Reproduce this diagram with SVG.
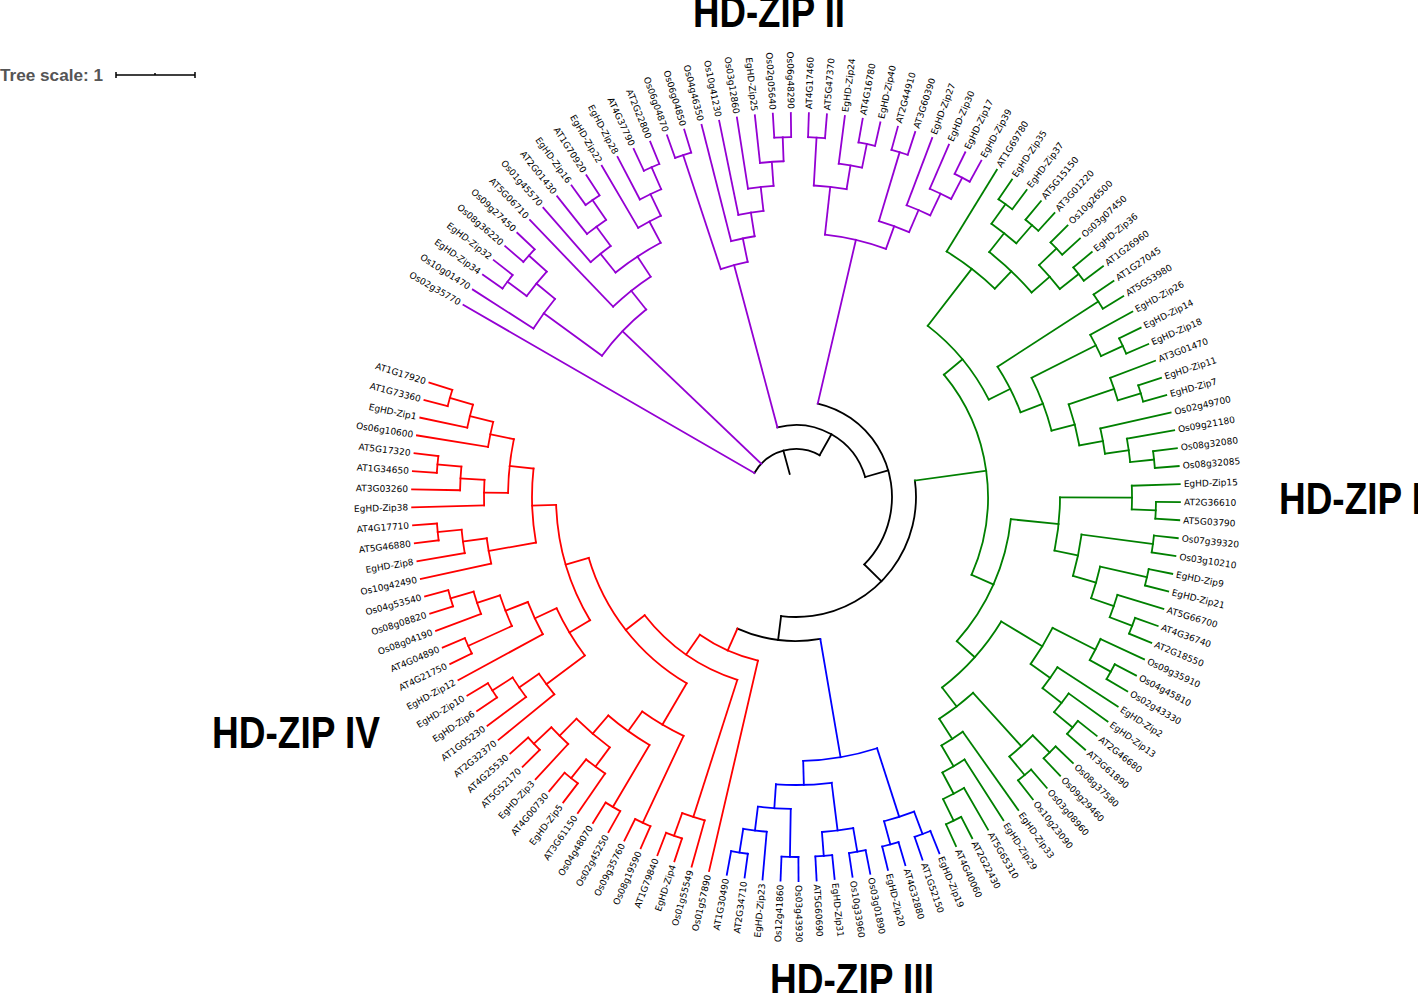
<svg xmlns="http://www.w3.org/2000/svg" width="1418" height="993" viewBox="0 0 1418 993">
<style>
.e{fill:none;stroke-width:1.8;stroke-linecap:square}
.pu{stroke:#9400d3}.gr{stroke:#008000}.bl{stroke:#0000ff}.rd{stroke:#ff0000}.bk{stroke:#000}
.l{font-family:"DejaVu Sans",Verdana,sans-serif;font-size:9px;dominant-baseline:central;fill:#000}
.f{text-anchor:end}
.h{font-family:"Liberation Sans",Arial,sans-serif;font-weight:bold;font-size:44px;fill:#000}
</style>
<rect width="1418" height="993" fill="#fff"/>
<g id="tree-scale">
<text x="0" y="81" font-family="Liberation Sans, Arial, sans-serif" font-weight="bold" font-size="16" fill="#555" textLength="103" lengthAdjust="spacingAndGlyphs">Tree scale: 1</text>
<path d="M116 75H195M116 72V78M195 72V78M155 73V75" stroke="#000" stroke-width="1.5" fill="none"/>
</g>
<g id="clade-titles">
<text class="h" x="1279" y="514" textLength="143" lengthAdjust="spacingAndGlyphs">HD-ZIP I</text>
<text class="h" x="693" y="27" textLength="152" lengthAdjust="spacingAndGlyphs">HD-ZIP II</text>
<text class="h" x="770" y="995" textLength="164" lengthAdjust="spacingAndGlyphs">HD-ZIP III</text>
<text class="h" x="212" y="748" textLength="168" lengthAdjust="spacingAndGlyphs">HD-ZIP IV</text>
</g>
<g transform="translate(796,497)">
<g id="connectors">
<g id="backbone" class="e bk">
<circle r="48" pathLength="360" stroke-dasharray="89.47 360" transform="rotate(-150)"/>
<path d="M24 0H48" transform="rotate(-105.265)"/>
<path d="M48 0H72" transform="rotate(-60.53)"/>
<circle r="72" pathLength="360" stroke-dasharray="88.825 360" transform="rotate(-104.945)"/>
<path d="M72 0H96" transform="rotate(-16.12)"/>
<circle r="96" pathLength="360" stroke-dasharray="121.525 360" transform="rotate(-76.885)"/>
<path d="M96 0H120" transform="rotate(44.64)"/>
<circle r="120" pathLength="360" stroke-dasharray="104.99 360" transform="rotate(-7.8545)"/>
<path d="M120 0H144" transform="rotate(97.135)"/>
<circle r="144" pathLength="360" stroke-dasharray="33.71 360" transform="rotate(80.28)"/>
</g>
<g id="hdzip2-branches" class="e pu">
<path d="M48 0H384" transform="rotate(-150)"/>
<path d="M312 0H384" transform="rotate(-147.31)"/>
<path d="M360 0H384" transform="rotate(-144.62)"/>
<path d="M360 0H384" transform="rotate(-141.92)"/>
<path d="M360 0H384" transform="rotate(-139.23)"/>
<path d="M360 0H384" transform="rotate(-136.54)"/>
<path d="M264 0H384" transform="rotate(-133.85)"/>
<path d="M312 0H384" transform="rotate(-131.15)"/>
<path d="M336 0H384" transform="rotate(-128.46)"/>
<path d="M360 0H384" transform="rotate(-125.77)"/>
<path d="M360 0H384" transform="rotate(-123.08)"/>
<path d="M312 0H384" transform="rotate(-120.38)"/>
<path d="M336 0H384" transform="rotate(-117.69)"/>
<path d="M360 0H384" transform="rotate(-115)"/>
<path d="M360 0H384" transform="rotate(-112.31)"/>
<path d="M360 0H384" transform="rotate(-109.62)"/>
<path d="M360 0H384" transform="rotate(-106.92)"/>
<path d="M264 0H384" transform="rotate(-104.23)"/>
<path d="M288 0H384" transform="rotate(-101.54)"/>
<path d="M312 0H384" transform="rotate(-98.85)"/>
<path d="M336 0H384" transform="rotate(-96.15)"/>
<path d="M360 0H384" transform="rotate(-93.46)"/>
<path d="M360 0H384" transform="rotate(-90.77)"/>
<path d="M360 0H384" transform="rotate(-88.08)"/>
<path d="M360 0H384" transform="rotate(-85.38)"/>
<path d="M336 0H384" transform="rotate(-82.69)"/>
<path d="M360 0H384" transform="rotate(-80)"/>
<path d="M360 0H384" transform="rotate(-77.31)"/>
<path d="M360 0H384" transform="rotate(-74.62)"/>
<path d="M360 0H384" transform="rotate(-71.92)"/>
<path d="M312 0H384" transform="rotate(-69.23)"/>
<path d="M336 0H384" transform="rotate(-66.54)"/>
<path d="M360 0H384" transform="rotate(-63.85)"/>
<path d="M360 0H384" transform="rotate(-61.15)"/>
<path d="M336 0H360" transform="rotate(-143.27)"/>
<path d="M336 0H360" transform="rotate(-137.885)"/>
<path d="M312 0H336" transform="rotate(-140.58)"/>
<path d="M240 0H312" transform="rotate(-143.945)"/>
<path d="M336 0H360" transform="rotate(-124.425)"/>
<path d="M312 0H336" transform="rotate(-126.44)"/>
<path d="M288 0H312" transform="rotate(-128.795)"/>
<path d="M336 0H360" transform="rotate(-113.655)"/>
<path d="M312 0H336" transform="rotate(-115.67)"/>
<path d="M288 0H312" transform="rotate(-118.025)"/>
<path d="M264 0H288" transform="rotate(-123.41)"/>
<path d="M240 0H264" transform="rotate(-128.63)"/>
<path d="M48 0H240" transform="rotate(-136.29)"/>
<path d="M240 0H360" transform="rotate(-108.27)"/>
<path d="M336 0H360" transform="rotate(-92.115)"/>
<path d="M312 0H336" transform="rotate(-94.13)"/>
<path d="M288 0H312" transform="rotate(-96.49)"/>
<path d="M264 0H288" transform="rotate(-99.015)"/>
<path d="M240 0H264" transform="rotate(-101.62)"/>
<path d="M72 0H240" transform="rotate(-104.945)"/>
<path d="M312 0H360" transform="rotate(-86.73)"/>
<path d="M336 0H360" transform="rotate(-78.655)"/>
<path d="M312 0H336" transform="rotate(-80.67)"/>
<path d="M264 0H312" transform="rotate(-83.7)"/>
<path d="M288 0H360" transform="rotate(-73.27)"/>
<path d="M336 0H360" transform="rotate(-62.5)"/>
<path d="M312 0H336" transform="rotate(-64.52)"/>
<path d="M288 0H312" transform="rotate(-66.875)"/>
<path d="M264 0H288" transform="rotate(-70.07)"/>
<path d="M96 0H264" transform="rotate(-76.885)"/>
<circle r="360" pathLength="360" stroke-dasharray="2.7 360" transform="rotate(-144.62)"/>
<circle r="360" pathLength="360" stroke-dasharray="2.69 360" transform="rotate(-139.23)"/>
<circle r="336" pathLength="360" stroke-dasharray="5.385 360" transform="rotate(-143.27)"/>
<circle r="312" pathLength="360" stroke-dasharray="6.73 360" transform="rotate(-147.31)"/>
<circle r="360" pathLength="360" stroke-dasharray="2.69 360" transform="rotate(-125.77)"/>
<circle r="336" pathLength="360" stroke-dasharray="4.035 360" transform="rotate(-128.46)"/>
<circle r="312" pathLength="360" stroke-dasharray="4.71 360" transform="rotate(-131.15)"/>
<circle r="360" pathLength="360" stroke-dasharray="2.69 360" transform="rotate(-115)"/>
<circle r="336" pathLength="360" stroke-dasharray="4.035 360" transform="rotate(-117.69)"/>
<circle r="312" pathLength="360" stroke-dasharray="4.71 360" transform="rotate(-120.38)"/>
<circle r="288" pathLength="360" stroke-dasharray="10.77 360" transform="rotate(-128.795)"/>
<circle r="264" pathLength="360" stroke-dasharray="10.44 360" transform="rotate(-133.85)"/>
<circle r="240" pathLength="360" stroke-dasharray="15.315 360" transform="rotate(-143.945)"/>
<circle r="360" pathLength="360" stroke-dasharray="2.7 360" transform="rotate(-109.62)"/>
<circle r="240" pathLength="360" stroke-dasharray="6.65 360" transform="rotate(-108.27)"/>
<circle r="360" pathLength="360" stroke-dasharray="2.69 360" transform="rotate(-93.46)"/>
<circle r="336" pathLength="360" stroke-dasharray="4.035 360" transform="rotate(-96.15)"/>
<circle r="312" pathLength="360" stroke-dasharray="4.72 360" transform="rotate(-98.85)"/>
<circle r="288" pathLength="360" stroke-dasharray="5.05 360" transform="rotate(-101.54)"/>
<circle r="264" pathLength="360" stroke-dasharray="5.215 360" transform="rotate(-104.23)"/>
<circle r="360" pathLength="360" stroke-dasharray="2.7 360" transform="rotate(-88.08)"/>
<circle r="360" pathLength="360" stroke-dasharray="2.69 360" transform="rotate(-80)"/>
<circle r="336" pathLength="360" stroke-dasharray="4.035 360" transform="rotate(-82.69)"/>
<circle r="312" pathLength="360" stroke-dasharray="6.06 360" transform="rotate(-86.73)"/>
<circle r="360" pathLength="360" stroke-dasharray="2.7 360" transform="rotate(-74.62)"/>
<circle r="360" pathLength="360" stroke-dasharray="2.7 360" transform="rotate(-63.85)"/>
<circle r="336" pathLength="360" stroke-dasharray="4.04 360" transform="rotate(-66.54)"/>
<circle r="312" pathLength="360" stroke-dasharray="4.71 360" transform="rotate(-69.23)"/>
<circle r="288" pathLength="360" stroke-dasharray="6.395 360" transform="rotate(-73.27)"/>
<circle r="264" pathLength="360" stroke-dasharray="13.63 360" transform="rotate(-83.7)"/>
</g>
<g id="hdzip1-branches" class="e gr">
<path d="M288 0H384" transform="rotate(-58.46)"/>
<path d="M360 0H384" transform="rotate(-55.77)"/>
<path d="M360 0H384" transform="rotate(-53.08)"/>
<path d="M360 0H384" transform="rotate(-50.38)"/>
<path d="M360 0H384" transform="rotate(-47.69)"/>
<path d="M360 0H384" transform="rotate(-45)"/>
<path d="M360 0H384" transform="rotate(-42.31)"/>
<path d="M360 0H384" transform="rotate(-39.62)"/>
<path d="M360 0H384" transform="rotate(-36.92)"/>
<path d="M360 0H384" transform="rotate(-34.23)"/>
<path d="M360 0H384" transform="rotate(-31.54)"/>
<path d="M336 0H384" transform="rotate(-28.85)"/>
<path d="M360 0H384" transform="rotate(-26.15)"/>
<path d="M360 0H384" transform="rotate(-23.46)"/>
<path d="M336 0H384" transform="rotate(-20.77)"/>
<path d="M360 0H384" transform="rotate(-18.08)"/>
<path d="M360 0H384" transform="rotate(-15.38)"/>
<path d="M312 0H384" transform="rotate(-12.69)"/>
<path d="M336 0H384" transform="rotate(-10)"/>
<path d="M360 0H384" transform="rotate(-7.31)"/>
<path d="M360 0H384" transform="rotate(-4.62)"/>
<path d="M336 0H384" transform="rotate(-1.92)"/>
<path d="M360 0H384" transform="rotate(0.77)"/>
<path d="M360 0H384" transform="rotate(3.46)"/>
<path d="M360 0H384" transform="rotate(6.15)"/>
<path d="M360 0H384" transform="rotate(8.85)"/>
<path d="M360 0H384" transform="rotate(11.54)"/>
<path d="M360 0H384" transform="rotate(14.23)"/>
<path d="M336 0H384" transform="rotate(16.92)"/>
<path d="M360 0H384" transform="rotate(19.62)"/>
<path d="M360 0H384" transform="rotate(22.31)"/>
<path d="M336 0H384" transform="rotate(25)"/>
<path d="M360 0H384" transform="rotate(27.69)"/>
<path d="M360 0H384" transform="rotate(30.38)"/>
<path d="M312 0H384" transform="rotate(33.08)"/>
<path d="M336 0H384" transform="rotate(35.77)"/>
<path d="M360 0H384" transform="rotate(38.46)"/>
<path d="M360 0H384" transform="rotate(41.15)"/>
<path d="M360 0H384" transform="rotate(43.85)"/>
<path d="M360 0H384" transform="rotate(46.54)"/>
<path d="M360 0H384" transform="rotate(49.23)"/>
<path d="M360 0H384" transform="rotate(51.92)"/>
<path d="M288 0H384" transform="rotate(54.62)"/>
<path d="M312 0H384" transform="rotate(57.31)"/>
<path d="M336 0H384" transform="rotate(60)"/>
<path d="M360 0H384" transform="rotate(62.69)"/>
<path d="M360 0H384" transform="rotate(65.38)"/>
<path d="M336 0H360" transform="rotate(-54.425)"/>
<path d="M336 0H360" transform="rotate(-49.035)"/>
<path d="M312 0H336" transform="rotate(-51.73)"/>
<path d="M336 0H360" transform="rotate(-43.655)"/>
<path d="M336 0H360" transform="rotate(-38.27)"/>
<path d="M312 0H336" transform="rotate(-40.96)"/>
<path d="M288 0H312" transform="rotate(-46.345)"/>
<path d="M216 0H288" transform="rotate(-52.4025)"/>
<path d="M240 0H360" transform="rotate(-32.885)"/>
<path d="M336 0H360" transform="rotate(-24.805)"/>
<path d="M264 0H336" transform="rotate(-26.83)"/>
<path d="M336 0H360" transform="rotate(-16.73)"/>
<path d="M288 0H336" transform="rotate(-18.75)"/>
<path d="M336 0H360" transform="rotate(-5.965)"/>
<path d="M312 0H336" transform="rotate(-7.98)"/>
<path d="M288 0H312" transform="rotate(-10.335)"/>
<path d="M264 0H288" transform="rotate(-14.5425)"/>
<path d="M240 0H264" transform="rotate(-20.686)"/>
<path d="M216 0H240" transform="rotate(-26.7855)"/>
<path d="M192 0H216" transform="rotate(-39.594)"/>
<path d="M336 0H360" transform="rotate(2.115)"/>
<path d="M264 0H336" transform="rotate(0.0975)"/>
<path d="M288 0H360" transform="rotate(7.5)"/>
<path d="M312 0H360" transform="rotate(12.885)"/>
<path d="M336 0H360" transform="rotate(20.965)"/>
<path d="M312 0H336" transform="rotate(18.94)"/>
<path d="M288 0H312" transform="rotate(15.91)"/>
<path d="M264 0H288" transform="rotate(11.705)"/>
<path d="M216 0H264" transform="rotate(5.9)"/>
<path d="M336 0H360" transform="rotate(29.035)"/>
<path d="M288 0H336" transform="rotate(27.02)"/>
<path d="M336 0H360" transform="rotate(39.805)"/>
<path d="M312 0H336" transform="rotate(37.79)"/>
<path d="M288 0H312" transform="rotate(35.435)"/>
<path d="M240 0H288" transform="rotate(31.23)"/>
<path d="M336 0H360" transform="rotate(45.195)"/>
<path d="M336 0H360" transform="rotate(50.575)"/>
<path d="M264 0H336" transform="rotate(47.885)"/>
<path d="M336 0H360" transform="rotate(64.035)"/>
<path d="M312 0H336" transform="rotate(62.02)"/>
<path d="M288 0H312" transform="rotate(59.665)"/>
<path d="M264 0H288" transform="rotate(57.14)"/>
<path d="M240 0H264" transform="rotate(52.51)"/>
<path d="M216 0H240" transform="rotate(41.87)"/>
<path d="M192 0H216" transform="rotate(23.885)"/>
<path d="M120 0H192" transform="rotate(-7.8545)"/>
<circle r="360" pathLength="360" stroke-dasharray="2.69 360" transform="rotate(-55.77)"/>
<circle r="360" pathLength="360" stroke-dasharray="2.69 360" transform="rotate(-50.38)"/>
<circle r="336" pathLength="360" stroke-dasharray="5.39 360" transform="rotate(-54.425)"/>
<circle r="360" pathLength="360" stroke-dasharray="2.69 360" transform="rotate(-45)"/>
<circle r="360" pathLength="360" stroke-dasharray="2.7 360" transform="rotate(-39.62)"/>
<circle r="336" pathLength="360" stroke-dasharray="5.385 360" transform="rotate(-43.655)"/>
<circle r="312" pathLength="360" stroke-dasharray="10.77 360" transform="rotate(-51.73)"/>
<circle r="288" pathLength="360" stroke-dasharray="12.1175 360" transform="rotate(-58.46)"/>
<circle r="360" pathLength="360" stroke-dasharray="2.69 360" transform="rotate(-34.23)"/>
<circle r="360" pathLength="360" stroke-dasharray="2.69 360" transform="rotate(-26.15)"/>
<circle r="336" pathLength="360" stroke-dasharray="4.045 360" transform="rotate(-28.85)"/>
<circle r="360" pathLength="360" stroke-dasharray="2.7 360" transform="rotate(-18.08)"/>
<circle r="336" pathLength="360" stroke-dasharray="4.04 360" transform="rotate(-20.77)"/>
<circle r="360" pathLength="360" stroke-dasharray="2.69 360" transform="rotate(-7.31)"/>
<circle r="336" pathLength="360" stroke-dasharray="4.035 360" transform="rotate(-10)"/>
<circle r="312" pathLength="360" stroke-dasharray="4.71 360" transform="rotate(-12.69)"/>
<circle r="288" pathLength="360" stroke-dasharray="8.415 360" transform="rotate(-18.75)"/>
<circle r="264" pathLength="360" stroke-dasharray="12.2875 360" transform="rotate(-26.83)"/>
<circle r="240" pathLength="360" stroke-dasharray="12.199 360" transform="rotate(-32.885)"/>
<circle r="216" pathLength="360" stroke-dasharray="25.617 360" transform="rotate(-52.4025)"/>
<circle r="360" pathLength="360" stroke-dasharray="2.69 360" transform="rotate(0.77)"/>
<circle r="336" pathLength="360" stroke-dasharray="4.035 360" transform="rotate(-1.92)"/>
<circle r="360" pathLength="360" stroke-dasharray="2.7 360" transform="rotate(6.15)"/>
<circle r="360" pathLength="360" stroke-dasharray="2.69 360" transform="rotate(11.54)"/>
<circle r="360" pathLength="360" stroke-dasharray="2.69 360" transform="rotate(19.62)"/>
<circle r="336" pathLength="360" stroke-dasharray="4.045 360" transform="rotate(16.92)"/>
<circle r="312" pathLength="360" stroke-dasharray="6.055 360" transform="rotate(12.885)"/>
<circle r="288" pathLength="360" stroke-dasharray="8.41 360" transform="rotate(7.5)"/>
<circle r="264" pathLength="360" stroke-dasharray="11.61 360" transform="rotate(0.0975)"/>
<circle r="360" pathLength="360" stroke-dasharray="2.69 360" transform="rotate(27.69)"/>
<circle r="336" pathLength="360" stroke-dasharray="4.035 360" transform="rotate(25)"/>
<circle r="360" pathLength="360" stroke-dasharray="2.69 360" transform="rotate(38.46)"/>
<circle r="336" pathLength="360" stroke-dasharray="4.035 360" transform="rotate(35.77)"/>
<circle r="312" pathLength="360" stroke-dasharray="4.71 360" transform="rotate(33.08)"/>
<circle r="288" pathLength="360" stroke-dasharray="8.415 360" transform="rotate(27.02)"/>
<circle r="360" pathLength="360" stroke-dasharray="2.69 360" transform="rotate(43.85)"/>
<circle r="360" pathLength="360" stroke-dasharray="2.69 360" transform="rotate(49.23)"/>
<circle r="336" pathLength="360" stroke-dasharray="5.38 360" transform="rotate(45.195)"/>
<circle r="360" pathLength="360" stroke-dasharray="2.69 360" transform="rotate(62.69)"/>
<circle r="336" pathLength="360" stroke-dasharray="4.035 360" transform="rotate(60)"/>
<circle r="312" pathLength="360" stroke-dasharray="4.71 360" transform="rotate(57.31)"/>
<circle r="288" pathLength="360" stroke-dasharray="5.045 360" transform="rotate(54.62)"/>
<circle r="264" pathLength="360" stroke-dasharray="9.255 360" transform="rotate(47.885)"/>
<circle r="240" pathLength="360" stroke-dasharray="21.28 360" transform="rotate(31.23)"/>
<circle r="216" pathLength="360" stroke-dasharray="35.97 360" transform="rotate(5.9)"/>
<circle r="192" pathLength="360" stroke-dasharray="63.479 360" transform="rotate(-39.594)"/>
</g>
<g id="hdzip3-branches" class="e bl">
<path d="M360 0H384" transform="rotate(68.08)"/>
<path d="M360 0H384" transform="rotate(70.77)"/>
<path d="M360 0H384" transform="rotate(73.46)"/>
<path d="M360 0H384" transform="rotate(76.15)"/>
<path d="M360 0H384" transform="rotate(78.85)"/>
<path d="M360 0H384" transform="rotate(81.54)"/>
<path d="M360 0H384" transform="rotate(84.23)"/>
<path d="M360 0H384" transform="rotate(86.92)"/>
<path d="M360 0H384" transform="rotate(89.62)"/>
<path d="M360 0H384" transform="rotate(92.31)"/>
<path d="M336 0H384" transform="rotate(95)"/>
<path d="M360 0H384" transform="rotate(97.69)"/>
<path d="M360 0H384" transform="rotate(100.38)"/>
<path d="M336 0H360" transform="rotate(69.425)"/>
<path d="M336 0H360" transform="rotate(74.805)"/>
<path d="M264 0H336" transform="rotate(72.115)"/>
<path d="M336 0H360" transform="rotate(80.195)"/>
<path d="M336 0H360" transform="rotate(85.575)"/>
<path d="M288 0H336" transform="rotate(82.885)"/>
<path d="M312 0H360" transform="rotate(90.965)"/>
<path d="M336 0H360" transform="rotate(99.035)"/>
<path d="M312 0H336" transform="rotate(97.0175)"/>
<path d="M288 0H312" transform="rotate(93.99)"/>
<path d="M264 0H288" transform="rotate(88.44)"/>
<path d="M144 0H264" transform="rotate(80.28)"/>
<circle r="360" pathLength="360" stroke-dasharray="2.69 360" transform="rotate(68.08)"/>
<circle r="360" pathLength="360" stroke-dasharray="2.69 360" transform="rotate(73.46)"/>
<circle r="336" pathLength="360" stroke-dasharray="5.38 360" transform="rotate(69.425)"/>
<circle r="360" pathLength="360" stroke-dasharray="2.69 360" transform="rotate(78.85)"/>
<circle r="360" pathLength="360" stroke-dasharray="2.69 360" transform="rotate(84.23)"/>
<circle r="336" pathLength="360" stroke-dasharray="5.38 360" transform="rotate(80.195)"/>
<circle r="360" pathLength="360" stroke-dasharray="2.69 360" transform="rotate(89.62)"/>
<circle r="360" pathLength="360" stroke-dasharray="2.69 360" transform="rotate(97.69)"/>
<circle r="336" pathLength="360" stroke-dasharray="4.035 360" transform="rotate(95)"/>
<circle r="312" pathLength="360" stroke-dasharray="6.0525 360" transform="rotate(90.965)"/>
<circle r="288" pathLength="360" stroke-dasharray="11.105 360" transform="rotate(82.885)"/>
<circle r="264" pathLength="360" stroke-dasharray="16.325 360" transform="rotate(72.115)"/>
</g>
<g id="hdzip4-branches" class="e rd">
<path d="M168 0H384" transform="rotate(103.08)"/>
<path d="M336 0H384" transform="rotate(105.77)"/>
<path d="M360 0H384" transform="rotate(108.46)"/>
<path d="M360 0H384" transform="rotate(111.15)"/>
<path d="M360 0H384" transform="rotate(113.85)"/>
<path d="M360 0H384" transform="rotate(116.54)"/>
<path d="M360 0H384" transform="rotate(119.23)"/>
<path d="M360 0H384" transform="rotate(121.92)"/>
<path d="M336 0H384" transform="rotate(124.62)"/>
<path d="M360 0H384" transform="rotate(127.31)"/>
<path d="M360 0H384" transform="rotate(130)"/>
<path d="M336 0H384" transform="rotate(132.69)"/>
<path d="M360 0H384" transform="rotate(135.38)"/>
<path d="M360 0H384" transform="rotate(138.08)"/>
<path d="M312 0H384" transform="rotate(140.77)"/>
<path d="M336 0H384" transform="rotate(143.46)"/>
<path d="M360 0H384" transform="rotate(146.15)"/>
<path d="M360 0H384" transform="rotate(148.85)"/>
<path d="M288 0H384" transform="rotate(151.54)"/>
<path d="M360 0H384" transform="rotate(154.23)"/>
<path d="M360 0H384" transform="rotate(156.92)"/>
<path d="M336 0H384" transform="rotate(159.62)"/>
<path d="M360 0H384" transform="rotate(162.31)"/>
<path d="M360 0H384" transform="rotate(165)"/>
<path d="M312 0H384" transform="rotate(167.69)"/>
<path d="M336 0H384" transform="rotate(170.38)"/>
<path d="M360 0H384" transform="rotate(173.08)"/>
<path d="M360 0H384" transform="rotate(175.77)"/>
<path d="M312 0H384" transform="rotate(178.46)"/>
<path d="M336 0H384" transform="rotate(181.15)"/>
<path d="M360 0H384" transform="rotate(183.85)"/>
<path d="M360 0H384" transform="rotate(186.54)"/>
<path d="M312 0H384" transform="rotate(189.23)"/>
<path d="M336 0H384" transform="rotate(191.92)"/>
<path d="M360 0H384" transform="rotate(194.62)"/>
<path d="M360 0H384" transform="rotate(197.31)"/>
<path d="M336 0H360" transform="rotate(109.805)"/>
<path d="M192 0H336" transform="rotate(107.79)"/>
<path d="M264 0H360" transform="rotate(115.195)"/>
<path d="M288 0H360" transform="rotate(120.575)"/>
<path d="M336 0H360" transform="rotate(128.655)"/>
<path d="M312 0H336" transform="rotate(126.64)"/>
<path d="M336 0H360" transform="rotate(136.73)"/>
<path d="M312 0H336" transform="rotate(134.71)"/>
<path d="M288 0H312" transform="rotate(130.675)"/>
<path d="M264 0H288" transform="rotate(125.625)"/>
<path d="M216 0H264" transform="rotate(120.41)"/>
<path d="M336 0H360" transform="rotate(147.5)"/>
<path d="M312 0H336" transform="rotate(145.48)"/>
<path d="M264 0H312" transform="rotate(143.125)"/>
<path d="M312 0H360" transform="rotate(155.575)"/>
<path d="M336 0H360" transform="rotate(163.655)"/>
<path d="M312 0H336" transform="rotate(161.64)"/>
<path d="M288 0H312" transform="rotate(158.61)"/>
<path d="M264 0H288" transform="rotate(155.075)"/>
<path d="M240 0H264" transform="rotate(149.1)"/>
<path d="M336 0H360" transform="rotate(174.425)"/>
<path d="M312 0H336" transform="rotate(172.4)"/>
<path d="M264 0H312" transform="rotate(170.045)"/>
<path d="M336 0H360" transform="rotate(185.195)"/>
<path d="M312 0H336" transform="rotate(183.17)"/>
<path d="M288 0H312" transform="rotate(180.815)"/>
<path d="M336 0H360" transform="rotate(195.965)"/>
<path d="M312 0H336" transform="rotate(193.94)"/>
<path d="M288 0H312" transform="rotate(191.585)"/>
<path d="M264 0H288" transform="rotate(186.2)"/>
<path d="M240 0H264" transform="rotate(178.12)"/>
<path d="M216 0H240" transform="rotate(163.61)"/>
<path d="M192 0H216" transform="rotate(142.01)"/>
<path d="M168 0H192" transform="rotate(124.9)"/>
<path d="M144 0H168" transform="rotate(113.99)"/>
<circle r="360" pathLength="360" stroke-dasharray="2.69 360" transform="rotate(108.46)"/>
<circle r="336" pathLength="360" stroke-dasharray="4.035 360" transform="rotate(105.77)"/>
<circle r="360" pathLength="360" stroke-dasharray="2.69 360" transform="rotate(113.85)"/>
<circle r="360" pathLength="360" stroke-dasharray="2.69 360" transform="rotate(119.23)"/>
<circle r="360" pathLength="360" stroke-dasharray="2.69 360" transform="rotate(127.31)"/>
<circle r="336" pathLength="360" stroke-dasharray="4.035 360" transform="rotate(124.62)"/>
<circle r="360" pathLength="360" stroke-dasharray="2.7 360" transform="rotate(135.38)"/>
<circle r="336" pathLength="360" stroke-dasharray="4.04 360" transform="rotate(132.69)"/>
<circle r="312" pathLength="360" stroke-dasharray="8.07 360" transform="rotate(126.64)"/>
<circle r="288" pathLength="360" stroke-dasharray="10.1 360" transform="rotate(120.575)"/>
<circle r="264" pathLength="360" stroke-dasharray="10.43 360" transform="rotate(115.195)"/>
<circle r="360" pathLength="360" stroke-dasharray="2.7 360" transform="rotate(146.15)"/>
<circle r="336" pathLength="360" stroke-dasharray="4.04 360" transform="rotate(143.46)"/>
<circle r="312" pathLength="360" stroke-dasharray="4.71 360" transform="rotate(140.77)"/>
<circle r="360" pathLength="360" stroke-dasharray="2.69 360" transform="rotate(154.23)"/>
<circle r="360" pathLength="360" stroke-dasharray="2.69 360" transform="rotate(162.31)"/>
<circle r="336" pathLength="360" stroke-dasharray="4.035 360" transform="rotate(159.62)"/>
<circle r="312" pathLength="360" stroke-dasharray="6.065 360" transform="rotate(155.575)"/>
<circle r="288" pathLength="360" stroke-dasharray="7.07 360" transform="rotate(151.54)"/>
<circle r="264" pathLength="360" stroke-dasharray="11.95 360" transform="rotate(143.125)"/>
<circle r="360" pathLength="360" stroke-dasharray="2.69 360" transform="rotate(173.08)"/>
<circle r="336" pathLength="360" stroke-dasharray="4.045 360" transform="rotate(170.38)"/>
<circle r="312" pathLength="360" stroke-dasharray="4.71 360" transform="rotate(167.69)"/>
<circle r="360" pathLength="360" stroke-dasharray="2.69 360" transform="rotate(183.85)"/>
<circle r="336" pathLength="360" stroke-dasharray="4.045 360" transform="rotate(181.15)"/>
<circle r="312" pathLength="360" stroke-dasharray="4.71 360" transform="rotate(178.46)"/>
<circle r="360" pathLength="360" stroke-dasharray="2.69 360" transform="rotate(194.62)"/>
<circle r="336" pathLength="360" stroke-dasharray="4.045 360" transform="rotate(191.92)"/>
<circle r="312" pathLength="360" stroke-dasharray="4.71 360" transform="rotate(189.23)"/>
<circle r="288" pathLength="360" stroke-dasharray="10.77 360" transform="rotate(180.815)"/>
<circle r="264" pathLength="360" stroke-dasharray="16.155 360" transform="rotate(170.045)"/>
<circle r="240" pathLength="360" stroke-dasharray="29.02 360" transform="rotate(149.1)"/>
<circle r="216" pathLength="360" stroke-dasharray="43.2 360" transform="rotate(120.41)"/>
<circle r="192" pathLength="360" stroke-dasharray="34.22 360" transform="rotate(107.79)"/>
<circle r="168" pathLength="360" stroke-dasharray="21.82 360" transform="rotate(103.08)"/>
</g>
</g>
<g id="leaves">
<text id="Os02g35770" class="l f" x="-388" transform="rotate(30)">Os02g35770</text>
<text id="Os10g01470" class="l f" x="-388" transform="rotate(32.69)">Os10g01470</text>
<text id="EgHD-Zip34" class="l f" x="-388" transform="rotate(35.38)">EgHD-Zip34</text>
<text id="EgHD-Zip32" class="l f" x="-388" transform="rotate(38.08)">EgHD-Zip32</text>
<text id="Os08g36220" class="l f" x="-388" transform="rotate(40.77)">Os08g36220</text>
<text id="Os09g27450" class="l f" x="-388" transform="rotate(43.46)">Os09g27450</text>
<text id="AT5G06710" class="l f" x="-388" transform="rotate(46.15)">AT5G06710</text>
<text id="Os01g45570" class="l f" x="-388" transform="rotate(48.85)">Os01g45570</text>
<text id="AT2G01430" class="l f" x="-388" transform="rotate(51.54)">AT2G01430</text>
<text id="EgHD-Zip16" class="l f" x="-388" transform="rotate(54.23)">EgHD-Zip16</text>
<text id="AT1G70920" class="l f" x="-388" transform="rotate(56.92)">AT1G70920</text>
<text id="EgHD-Zip22" class="l f" x="-388" transform="rotate(59.62)">EgHD-Zip22</text>
<text id="EgHD-Zip28" class="l f" x="-388" transform="rotate(62.31)">EgHD-Zip28</text>
<text id="AT4G37790" class="l f" x="-388" transform="rotate(65)">AT4G37790</text>
<text id="AT2G22800" class="l f" x="-388" transform="rotate(67.69)">AT2G22800</text>
<text id="Os06g04870" class="l f" x="-388" transform="rotate(70.38)">Os06g04870</text>
<text id="Os06g04850" class="l f" x="-388" transform="rotate(73.08)">Os06g04850</text>
<text id="Os04g46350" class="l f" x="-388" transform="rotate(75.77)">Os04g46350</text>
<text id="Os10g41230" class="l f" x="-388" transform="rotate(78.46)">Os10g41230</text>
<text id="Os03g12860" class="l f" x="-388" transform="rotate(81.15)">Os03g12860</text>
<text id="EgHD-Zip25" class="l f" x="-388" transform="rotate(83.85)">EgHD-Zip25</text>
<text id="Os02g05640" class="l f" x="-388" transform="rotate(86.54)">Os02g05640</text>
<text id="Os06g48290" class="l f" x="-388" transform="rotate(89.23)">Os06g48290</text>
<text id="AT4G17460" class="l" x="388" transform="rotate(-88.08)">AT4G17460</text>
<text id="AT5G47370" class="l" x="388" transform="rotate(-85.38)">AT5G47370</text>
<text id="EgHD-Zip24" class="l" x="388" transform="rotate(-82.69)">EgHD-Zip24</text>
<text id="AT4G16780" class="l" x="388" transform="rotate(-80)">AT4G16780</text>
<text id="EgHD-Zip40" class="l" x="388" transform="rotate(-77.31)">EgHD-Zip40</text>
<text id="AT2G44910" class="l" x="388" transform="rotate(-74.62)">AT2G44910</text>
<text id="AT3G60390" class="l" x="388" transform="rotate(-71.92)">AT3G60390</text>
<text id="EgHD-Zip27" class="l" x="388" transform="rotate(-69.23)">EgHD-Zip27</text>
<text id="EgHD-Zip30" class="l" x="388" transform="rotate(-66.54)">EgHD-Zip30</text>
<text id="EgHD-Zip17" class="l" x="388" transform="rotate(-63.85)">EgHD-Zip17</text>
<text id="EgHD-Zip39" class="l" x="388" transform="rotate(-61.15)">EgHD-Zip39</text>
<text id="AT1G69780" class="l" x="388" transform="rotate(-58.46)">AT1G69780</text>
<text id="EgHD-Zip35" class="l" x="388" transform="rotate(-55.77)">EgHD-Zip35</text>
<text id="EgHD-Zip37" class="l" x="388" transform="rotate(-53.08)">EgHD-Zip37</text>
<text id="AT5G15150" class="l" x="388" transform="rotate(-50.38)">AT5G15150</text>
<text id="AT3G01220" class="l" x="388" transform="rotate(-47.69)">AT3G01220</text>
<text id="Os10g26500" class="l" x="388" transform="rotate(-45)">Os10g26500</text>
<text id="Os03g07450" class="l" x="388" transform="rotate(-42.31)">Os03g07450</text>
<text id="EgHD-Zip36" class="l" x="388" transform="rotate(-39.62)">EgHD-Zip36</text>
<text id="AT1G26960" class="l" x="388" transform="rotate(-36.92)">AT1G26960</text>
<text id="AT1G27045" class="l" x="388" transform="rotate(-34.23)">AT1G27045</text>
<text id="AT5G53980" class="l" x="388" transform="rotate(-31.54)">AT5G53980</text>
<text id="EgHD-Zip26" class="l" x="388" transform="rotate(-28.85)">EgHD-Zip26</text>
<text id="EgHD-Zip14" class="l" x="388" transform="rotate(-26.15)">EgHD-Zip14</text>
<text id="EgHD-Zip18" class="l" x="388" transform="rotate(-23.46)">EgHD-Zip18</text>
<text id="AT3G01470" class="l" x="388" transform="rotate(-20.77)">AT3G01470</text>
<text id="EgHD-Zip11" class="l" x="388" transform="rotate(-18.08)">EgHD-Zip11</text>
<text id="EgHD-Zip7" class="l" x="388" transform="rotate(-15.38)">EgHD-Zip7</text>
<text id="Os02g49700" class="l" x="388" transform="rotate(-12.69)">Os02g49700</text>
<text id="Os09g21180" class="l" x="388" transform="rotate(-10)">Os09g21180</text>
<text id="Os08g32080" class="l" x="388" transform="rotate(-7.31)">Os08g32080</text>
<text id="Os08g32085" class="l" x="388" transform="rotate(-4.62)">Os08g32085</text>
<text id="EgHD-Zip15" class="l" x="388" transform="rotate(-1.92)">EgHD-Zip15</text>
<text id="AT2G36610" class="l" x="388" transform="rotate(0.77)">AT2G36610</text>
<text id="AT5G03790" class="l" x="388" transform="rotate(3.46)">AT5G03790</text>
<text id="Os07g39320" class="l" x="388" transform="rotate(6.15)">Os07g39320</text>
<text id="Os03g10210" class="l" x="388" transform="rotate(8.85)">Os03g10210</text>
<text id="EgHD-Zip9" class="l" x="388" transform="rotate(11.54)">EgHD-Zip9</text>
<text id="EgHD-Zip21" class="l" x="388" transform="rotate(14.23)">EgHD-Zip21</text>
<text id="AT5G66700" class="l" x="388" transform="rotate(16.92)">AT5G66700</text>
<text id="AT4G36740" class="l" x="388" transform="rotate(19.62)">AT4G36740</text>
<text id="AT2G18550" class="l" x="388" transform="rotate(22.31)">AT2G18550</text>
<text id="Os09g35910" class="l" x="388" transform="rotate(25)">Os09g35910</text>
<text id="Os04g45810" class="l" x="388" transform="rotate(27.69)">Os04g45810</text>
<text id="Os02g43330" class="l" x="388" transform="rotate(30.38)">Os02g43330</text>
<text id="EgHD-Zip2" class="l" x="388" transform="rotate(33.08)">EgHD-Zip2</text>
<text id="EgHD-Zip13" class="l" x="388" transform="rotate(35.77)">EgHD-Zip13</text>
<text id="AT2G46680" class="l" x="388" transform="rotate(38.46)">AT2G46680</text>
<text id="AT3G61890" class="l" x="388" transform="rotate(41.15)">AT3G61890</text>
<text id="Os08g37580" class="l" x="388" transform="rotate(43.85)">Os08g37580</text>
<text id="Os09g29460" class="l" x="388" transform="rotate(46.54)">Os09g29460</text>
<text id="Os03g08960" class="l" x="388" transform="rotate(49.23)">Os03g08960</text>
<text id="Os10g23090" class="l" x="388" transform="rotate(51.92)">Os10g23090</text>
<text id="EgHD-Zip33" class="l" x="388" transform="rotate(54.62)">EgHD-Zip33</text>
<text id="EgHD-Zip29" class="l" x="388" transform="rotate(57.31)">EgHD-Zip29</text>
<text id="AT5G65310" class="l" x="388" transform="rotate(60)">AT5G65310</text>
<text id="AT2G22430" class="l" x="388" transform="rotate(62.69)">AT2G22430</text>
<text id="AT4G40060" class="l" x="388" transform="rotate(65.38)">AT4G40060</text>
<text id="EgHD-Zip19" class="l" x="388" transform="rotate(68.08)">EgHD-Zip19</text>
<text id="AT1G52150" class="l" x="388" transform="rotate(70.77)">AT1G52150</text>
<text id="AT4G32880" class="l" x="388" transform="rotate(73.46)">AT4G32880</text>
<text id="EgHD-Zip20" class="l" x="388" transform="rotate(76.15)">EgHD-Zip20</text>
<text id="Os03g01890" class="l" x="388" transform="rotate(78.85)">Os03g01890</text>
<text id="Os10g33960" class="l" x="388" transform="rotate(81.54)">Os10g33960</text>
<text id="EgHD-Zip31" class="l" x="388" transform="rotate(84.23)">EgHD-Zip31</text>
<text id="AT5G60690" class="l" x="388" transform="rotate(86.92)">AT5G60690</text>
<text id="Os03g43930" class="l" x="388" transform="rotate(89.62)">Os03g43930</text>
<text id="Os12g41860" class="l f" x="-388" transform="rotate(-87.69)">Os12g41860</text>
<text id="EgHD-Zip23" class="l f" x="-388" transform="rotate(-85)">EgHD-Zip23</text>
<text id="AT2G34710" class="l f" x="-388" transform="rotate(-82.31)">AT2G34710</text>
<text id="AT1G30490" class="l f" x="-388" transform="rotate(-79.62)">AT1G30490</text>
<text id="Os01g57890" class="l f" x="-388" transform="rotate(-76.92)">Os01g57890</text>
<text id="Os01g55549" class="l f" x="-388" transform="rotate(-74.23)">Os01g55549</text>
<text id="EgHD-Zip4" class="l f" x="-388" transform="rotate(-71.54)">EgHD-Zip4</text>
<text id="AT1G79840" class="l f" x="-388" transform="rotate(-68.85)">AT1G79840</text>
<text id="Os08g19590" class="l f" x="-388" transform="rotate(-66.15)">Os08g19590</text>
<text id="Os09g35760" class="l f" x="-388" transform="rotate(-63.46)">Os09g35760</text>
<text id="Os02g45250" class="l f" x="-388" transform="rotate(-60.77)">Os02g45250</text>
<text id="Os04g48070" class="l f" x="-388" transform="rotate(-58.08)">Os04g48070</text>
<text id="AT3G61150" class="l f" x="-388" transform="rotate(-55.38)">AT3G61150</text>
<text id="EgHD-Zip5" class="l f" x="-388" transform="rotate(-52.69)">EgHD-Zip5</text>
<text id="AT4G00730" class="l f" x="-388" transform="rotate(-50)">AT4G00730</text>
<text id="EgHD-Zip3" class="l f" x="-388" transform="rotate(-47.31)">EgHD-Zip3</text>
<text id="AT5G52170" class="l f" x="-388" transform="rotate(-44.62)">AT5G52170</text>
<text id="AT4G25530" class="l f" x="-388" transform="rotate(-41.92)">AT4G25530</text>
<text id="AT2G32370" class="l f" x="-388" transform="rotate(-39.23)">AT2G32370</text>
<text id="AT1G05230" class="l f" x="-388" transform="rotate(-36.54)">AT1G05230</text>
<text id="EgHD-Zip6" class="l f" x="-388" transform="rotate(-33.85)">EgHD-Zip6</text>
<text id="EgHD-Zip10" class="l f" x="-388" transform="rotate(-31.15)">EgHD-Zip10</text>
<text id="EgHD-Zip12" class="l f" x="-388" transform="rotate(-28.46)">EgHD-Zip12</text>
<text id="AT4G21750" class="l f" x="-388" transform="rotate(-25.77)">AT4G21750</text>
<text id="AT4G04890" class="l f" x="-388" transform="rotate(-23.08)">AT4G04890</text>
<text id="Os08g04190" class="l f" x="-388" transform="rotate(-20.38)">Os08g04190</text>
<text id="Os08g08820" class="l f" x="-388" transform="rotate(-17.69)">Os08g08820</text>
<text id="Os04g53540" class="l f" x="-388" transform="rotate(-15)">Os04g53540</text>
<text id="Os10g42490" class="l f" x="-388" transform="rotate(-12.31)">Os10g42490</text>
<text id="EgHD-Zip8" class="l f" x="-388" transform="rotate(-9.62)">EgHD-Zip8</text>
<text id="AT5G46880" class="l f" x="-388" transform="rotate(-6.92)">AT5G46880</text>
<text id="AT4G17710" class="l f" x="-388" transform="rotate(-4.23)">AT4G17710</text>
<text id="EgHD-Zip38" class="l f" x="-388" transform="rotate(-1.54)">EgHD-Zip38</text>
<text id="AT3G03260" class="l f" x="-388" transform="rotate(1.15)">AT3G03260</text>
<text id="AT1G34650" class="l f" x="-388" transform="rotate(3.85)">AT1G34650</text>
<text id="AT5G17320" class="l f" x="-388" transform="rotate(6.54)">AT5G17320</text>
<text id="Os06g10600" class="l f" x="-388" transform="rotate(9.23)">Os06g10600</text>
<text id="EgHD-Zip1" class="l f" x="-388" transform="rotate(11.92)">EgHD-Zip1</text>
<text id="AT1G73360" class="l f" x="-388" transform="rotate(14.62)">AT1G73360</text>
<text id="AT1G17920" class="l f" x="-388" transform="rotate(17.31)">AT1G17920</text>
</g>
</g>
</svg>
